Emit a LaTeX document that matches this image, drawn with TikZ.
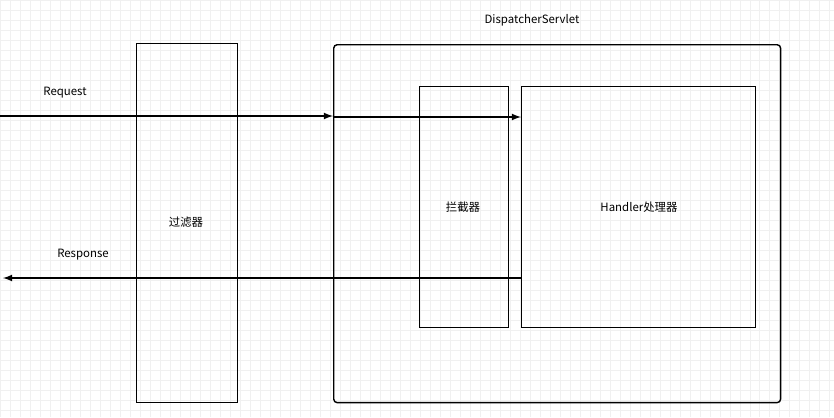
\documentclass[tikz,border=0pt]{standalone}
\usepackage{fontspec}
\setmainfont{Noto Sans CJK SC}
\usetikzlibrary{positioning}

\begin{document}
\begin{tikzpicture}[x=0.02cm,y=-0.02cm,font=\fontsize{6.5}{8}\selectfont,
    box/.style={draw,thick,minimum width=#1},
    flow/.style={thick,-latex}]
        \useasboundingbox (0,0) rectangle (834,417);
        \draw[black!6,step=0.2cm] (0,0) grid (834,417);
        \node[draw,thick,rounded corners=2pt,minimum width=8.94cm,minimum height=7.16cm,anchor=north west] (ds) at (333,44) {};
        \node at (532,20) (dslabel) {DispatcherServlet};
        \node[draw,thick,minimum width=2.02cm,minimum height=7.18cm,anchor=north west] (filter) at (136,43) {};
        \node at (186,222) {过滤器};
        \node[draw,thick,minimum width=1.78cm,minimum height=4.82cm,anchor=north west] (inter) at (419,86) {};
        \node at (463,207) {拦截器};
        \node[draw,thick,minimum width=4.68cm,minimum height=4.82cm,anchor=north west] (handler) at (521,86) {};
        \node at (639,207) {Handler处理器};
        \coordinate (in) at (0,116);
        \coordinate (out) at (3,278);
        \node at (65,93) {Request};
        \node at (83,255) {Response};
        \draw[flow] (in) -- (ds.west |- in);
        \draw[flow] (ds.west |- 0,117) -- (handler.west |- 0,117);
        \draw[flow] (handler.west |- out) -- (out);
\end{tikzpicture}
\end{document}
